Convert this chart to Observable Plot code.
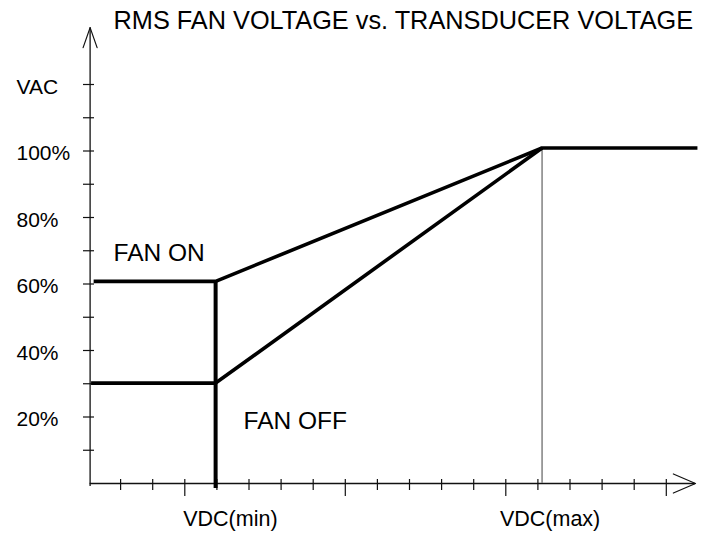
<!DOCTYPE html>
<html><head><meta charset="utf-8">
<script src="https://cdn.jsdelivr.net/npm/d3@7"></script>
<script src="https://cdn.jsdelivr.net/npm/@observablehq/plot@0.6"></script>
<style>html,body{margin:0;padding:0;background:#fff} svg{display:block}</style>
</head><body><div id="chart"></div>
<script>
// ---- data (x in transducer tick units, y in % of rms fan voltage) ----
const yTickValues = [10, 20, 30, 40, 50, 60, 70, 80, 90, 100, 110, 120];
const yLabelValues = [20, 40, 60, 80, 100, 120];
const yLabels = ["20%", "40%", "60%", "80%", "100%", "VAC"];
const xMinorTicks = [1, 2, 4, 5, 6, 7, 9, 10, 11, 12, 14, 15, 16, 17];
const xMajorTicks = [3, 8, 13, 18];
const xLabels = ["VDC(min)", "VDC(max)"];
const xLabelAt = [4.42, 14.38];
const vdcMin = 3.96;
const vdcMax = 14.13;
const fanOnX = [0.16, 3.96, 14.13, 18.97];
const fanOnY = [60.8, 60.8, 100.9, 100.9];
const fanOffX = [0.08, 3.96, 14.13];
const fanOffY = [30.2, 30.2, 100.9];
const titleText = "RMS FAN VOLTAGE vs. TRANSDUCER VOLTAGE";

const fanOn = fanOnX.map((x, i) => ({x, y: fanOnY[i]}));
const fanOff = fanOffX.map((x, i) => ({x, y: fanOffY[i]}));
const font = "'Liberation Sans', Arial, Helvetica, sans-serif";
const axisX0 = 0.05;

const chart = Plot.plot({
  width: 706, height: 533, margin: 0,
  x: {domain: [0, 19], range: [88, 88 + 19 * 32.1], axis: null},
  y: {domain: [0, 100], range: [483, 483 - 332.5], axis: null},
  style: {fontFamily: font, background: "#fff", color: "#000"},
  marks: [
    // axes lines
    Plot.ruleX([axisX0], {y1: -0.9, y2: 137.1, stroke: "#111", strokeWidth: 1.3}),
    Plot.line([[axisX0 - 0.218, 131.1], [axisX0, 137.1], [axisX0 + 0.218, 131.1]], {stroke: "#111", strokeWidth: 1.2}),
    Plot.ruleY([0], {x1: axisX0, x2: 18.91, stroke: "#111", strokeWidth: 1.3}),
    Plot.line([[18.22, 2.86], [18.91, 0], [18.22, -2.86]], {stroke: "#111", strokeWidth: 1.2}),
    // ticks
    Plot.ruleY(yTickValues, {x1: -0.156, x2: 0.187, stroke: "#111", strokeWidth: 1.2}),
    Plot.ruleX(xMinorTicks, {y1: 1.2, y2: -2.1, stroke: "#111", strokeWidth: 1.2}),
    Plot.ruleX(xMajorTicks, {y1: 1.2, y2: -3.9, stroke: "#111", strokeWidth: 1.2}),
    // tick labels
    Plot.text(yLabelValues, {y: d => d, text: (d, i) => yLabels[i], frameAnchor: "left", dx: 16, dy: 2.5, textAnchor: "start", fontSize: 21, fill: "#000"}),
    Plot.text(xLabels, {x: (d, i) => xLabelAt[i], y: -10.7, text: d => d, textAnchor: "middle", fontSize: 21.5, fill: "#000"}),
    // guide at VDC(max)
    Plot.ruleX([vdcMax], {y1: 0, y2: 100.9, stroke: "#808080", strokeWidth: 1.5}),
    // curves
    Plot.ruleX([vdcMin], {y1: -1.5, y2: 60.8, stroke: "#000", strokeWidth: 4}),
    Plot.line(fanOff, {x: "x", y: "y", stroke: "#000", strokeWidth: 3.6, strokeLinecap: "butt"}),
    Plot.line(fanOn, {x: "x", y: "y", stroke: "#000", strokeWidth: 3.6, strokeLinecap: "butt"}),
    // annotations
    Plot.text(["FAN ON"], {x: 0.78, y: 69.2, text: d => d, textAnchor: "start", fontSize: 24.5, fill: "#000"}),
    Plot.text(["FAN OFF"], {x: 4.83, y: 18.6, text: d => d, textAnchor: "start", fontSize: 24.5, fill: "#000"}),
    Plot.text([titleText], {x: 0.78, y: 139.0, text: d => d, textAnchor: "start", fontSize: 25.3, fill: "#000"})
  ]
});
document.getElementById("chart").appendChild(chart);
</script>
</body></html>
